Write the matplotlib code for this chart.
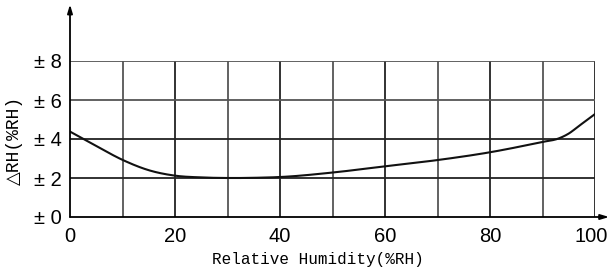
import matplotlib
matplotlib.use("Agg")
import matplotlib.pyplot as plt
import matplotlib.transforms as mtransforms
import numpy as np

rh = [0, 5, 10, 15, 20, 25, 30, 35, 40, 50, 60, 70, 80, 90, 93, 95, 97, 100]
err = [4.38, 3.64, 2.93, 2.4, 2.12, 2.03, 2.0, 2.01, 2.05, 2.28, 2.6, 2.92, 3.32, 3.85, 4.02, 4.28, 4.68, 5.28]
xticks = [0, 20, 40, 60, 80, 100]
yticks = [0, 2, 4, 6, 8]
ytick_labels = ["± 0", "± 2", "± 4", "± 6", "± 8"]

W, H = 610, 274
fig = plt.figure(figsize=(W / 100, H / 100), dpi=100)
x0, x1, yb, yt = 70, 595, 217, 61
ax = fig.add_axes([x0 / W, 1 - yb / H, (x1 - x0) / W, (yb - yt) / H])
ax.set_xlim(0, 100)
ax.set_ylim(0, 8)

# grid
for gx in range(10, 101, 10):
    col = "#555555" if gx % 20 else "#222222"
    ax.axvline(gx, color=col, lw=1.3, zorder=1)
for gy in [2, 4, 6, 8]:
    col = "#222222" if gy <= 4 else "#555555"
    ax.axhline(gy, color=col, lw=1.3, zorder=1)

def catmull(x, y, xn):
    # smooth cubic Hermite with centred finite-difference tangents
    x = np.asarray(x, float); y = np.asarray(y, float)
    h = np.diff(x); d = np.diff(y) / h
    m = np.zeros_like(y)
    m[1:-1] = (d[:-1] * h[1:] + d[1:] * h[:-1]) / (h[:-1] + h[1:])
    m[0] = d[0]; m[-1] = d[-1]
    idx = np.clip(np.searchsorted(x, xn) - 1, 0, len(x) - 2)
    t = (xn - x[idx]) / h[idx]
    h00 = 2 * t**3 - 3 * t**2 + 1; h10 = t**3 - 2 * t**2 + t
    h01 = -2 * t**3 + 3 * t**2; h11 = t**3 - t**2
    return h00 * y[idx] + h10 * h[idx] * m[idx] + h01 * y[idx + 1] + h11 * h[idx] * m[idx + 1]

xs = np.linspace(0, 100, 500)
ax.plot(xs, catmull(rh, err, xs), color="#111111", lw=1.5, zorder=3)

for s in ["top", "right", "left", "bottom"]:
    ax.spines[s].set_visible(False)

ax.annotate("", xy=(0, 10.9), xytext=(0, 0), annotation_clip=False,
            arrowprops=dict(arrowstyle="-|>,head_length=0.5,head_width=0.15", color="black", lw=1.3, shrinkA=0, shrinkB=0))
ax.annotate("", xy=(102.7, 0), xytext=(0, 0), annotation_clip=False,
            arrowprops=dict(arrowstyle="-|>,head_length=0.5,head_width=0.15", color="black", lw=1.3, shrinkA=0, shrinkB=0))

ax.set_xticks(xticks)
ax.set_xticklabels([str(v) for v in xticks], fontsize=14.5, family="Liberation Sans")
ax.set_yticks(yticks)
ax.set_yticklabels(ytick_labels, fontsize=14.5, family=["Liberation Sans", "DejaVu Sans"])
ax.tick_params(axis="x", length=0, pad=7)
ax.tick_params(axis="y", length=0, pad=6)

lbl = ax.get_xticklabels()[-1]
lbl.set_transform(lbl.get_transform() + mtransforms.ScaledTranslation(-4 / 100, 0, fig.dpi_scale_trans))

ax.set_xlabel("Relative Humidity(%RH)", fontsize=11.5, family="Liberation Mono")
ax.xaxis.set_label_coords(0.472, -0.225)
ax.set_ylabel("△RH(%RH)", fontsize=13, family=["Liberation Mono", "DejaVu Sans"])
ax.yaxis.set_label_coords(-0.09, 0.49)

fig.savefig("out.png", dpi=100)
